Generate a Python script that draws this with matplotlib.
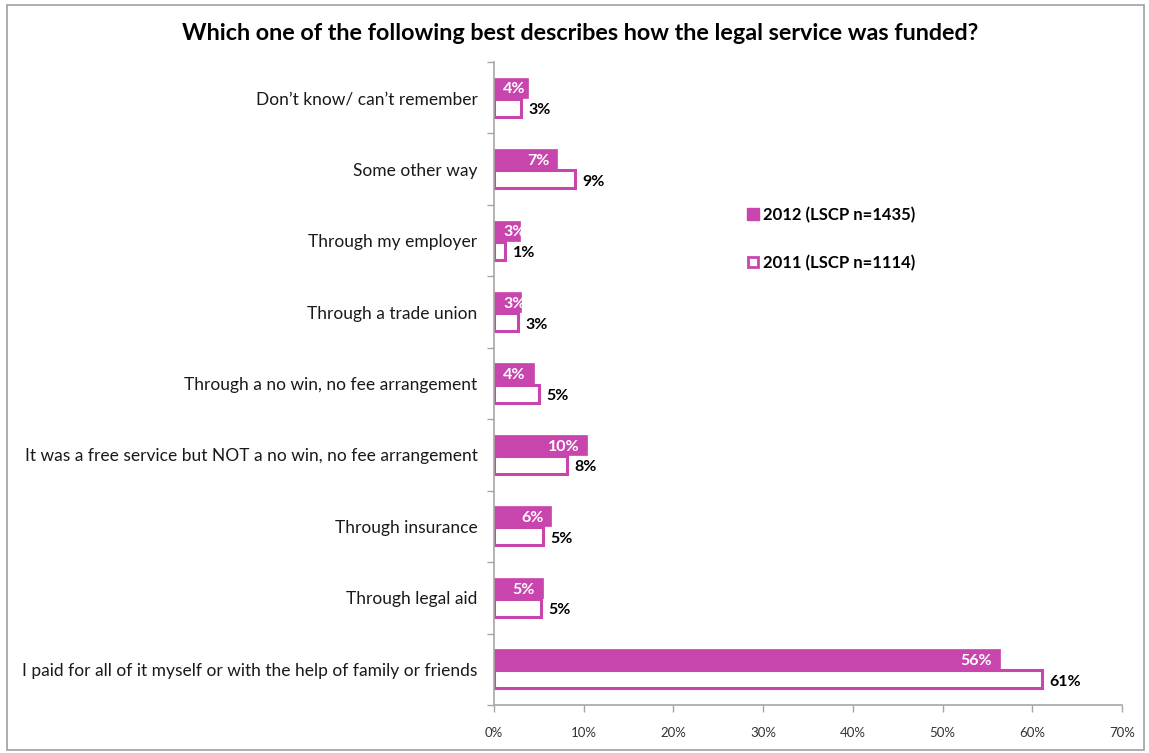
import matplotlib
matplotlib.use("Agg")
import matplotlib.pyplot as plt
from matplotlib.patches import Rectangle
from matplotlib.lines import Line2D
import numpy as np

plt.rcParams['font.family'] = ['Lato', 'DejaVu Sans']

categories = [
    "Don\u2019t know/ can\u2019t remember",
    "Some other way",
    "Through my employer",
    "Through a trade union",
    "Through a no win, no fee arrangement",
    "It was a free service but NOT a no win, no fee arrangement",
    "Through insurance",
    "Through legal aid",
    "I paid for all of it myself or with the help of family or friends",
]
values_2012 = [3.8, 7.0, 2.9, 3.0, 4.4, 10.4, 6.4, 5.4, 56.4]
values_2011 = [3.0, 9.0, 1.2, 2.7, 5.0, 8.1, 5.4, 5.2, 61.1]
series_labels = ["2012 (LSCP n=1435)", "2011 (LSCP n=1114)"]
xticks = [0, 10, 20, 30, 40, 50, 60, 70]
title = "Which one of the following best describes how the legal service was funded?"

MAGENTA = "#C945AE"
GRAY = "#A6A6A6"

fig = plt.figure(figsize=(11.49, 7.53), dpi=100)
fig.patches.append(Rectangle((0.006, 0.004), 0.99, 0.99, transform=fig.transFigure,
                             fill=False, edgecolor="#A0A0A0", linewidth=1.2))

ax = fig.add_axes([0.430, 0.0637, 0.5465, 0.854])

n = len(categories)
centers = np.arange(n)
h = 0.28

ax.barh(centers - h / 2, values_2012, height=h, color=MAGENTA, edgecolor=MAGENTA, linewidth=0.5)
ax.barh(centers + h / 2, values_2011, height=h * 0.9, color="white", edgecolor=MAGENTA, linewidth=2.2)

ax.set_xlim(0, 70)
ax.set_ylim(n - 0.5, -0.5)

for i, (a, b) in enumerate(zip(values_2012, values_2011)):
    if a < 4.5:
        ax.annotate(f"{round(a):d}%", (0, i - h / 2), xytext=(6.5, -1.2), textcoords="offset points",
                    ha="left", va="center", color="white", fontsize=11.5, fontweight="bold")
    else:
        ax.annotate(f"{round(a):d}%", (a, i - h / 2), xytext=(-5.5, -1.2), textcoords="offset points",
                    ha="right", va="center", color="white", fontsize=11.5, fontweight="bold")
    ax.annotate(f"{round(b):d}%", (b, i + h / 2), xytext=(5.5, -1.8), textcoords="offset points",
                ha="left", va="center", color="black", fontsize=11.5, fontweight="bold")

ax.set_xticks(xticks)
ax.set_xticklabels([f"{t}%" for t in xticks], fontsize=9.5, color="#333333")
ax.tick_params(axis="x", length=5, width=1, color=GRAY, pad=11, direction="out")

ax.set_yticks(np.arange(n + 1) - 0.5)
ax.set_yticklabels([])
ax.tick_params(axis="y", which="major", length=5, width=1, color=GRAY, direction="out")
ax.set_yticks(centers, minor=True)
ax.set_yticklabels(categories, minor=True, fontsize=12.5, color="#1a1a1a")
ax.tick_params(axis="y", which="minor", length=0, pad=12)

for s in ["top", "right"]:
    ax.spines[s].set_visible(False)
for s in ["left", "bottom"]:
    ax.spines[s].set_color(GRAY)
    ax.spines[s].set_linewidth(1.2)

fig.text(0.505, 0.955, title, ha="center", va="center", fontsize=16.8, fontweight="bold")

handles = [
    Line2D([], [], marker="s", linestyle="none", markersize=8, markerfacecolor=MAGENTA,
           markeredgecolor=MAGENTA),
    Line2D([], [], marker="s", linestyle="none", markersize=7, markerfacecolor="white",
           markeredgecolor=MAGENTA, markeredgewidth=2),
]
leg = fig.legend(handles, series_labels, loc="upper left", bbox_to_anchor=(0.638, 0.745),
                 frameon=False, handlelength=0.6, handletextpad=0.3, labelspacing=1.9,
                 prop={"weight": "bold", "size": 12})

fig.savefig("out.png", dpi=100)
